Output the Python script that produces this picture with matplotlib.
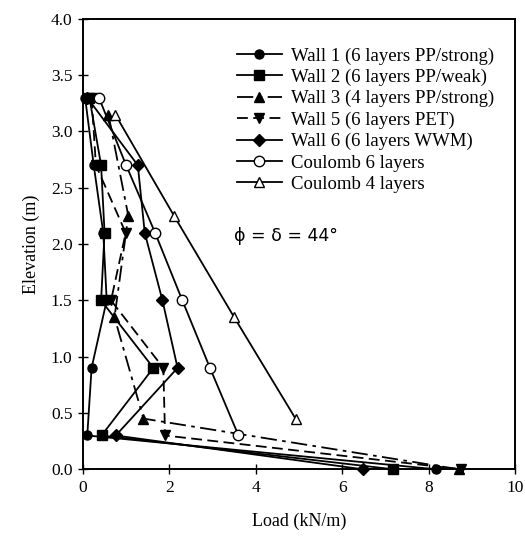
import matplotlib
matplotlib.use("Agg")
import matplotlib.pyplot as plt

# Elevations of the reinforcement layers (m)
elev6 = [3.3, 2.7, 2.1, 1.5, 0.9, 0.3, 0.0]
elev4 = [3.15, 2.25, 1.35, 0.45, 0.0]
elev6_coulomb = [3.3, 2.7, 2.1, 1.5, 0.9, 0.3]
elev4_coulomb = [3.15, 2.25, 1.35, 0.45]

# Measured loads (kN/m)
wall1 = [0.05, 0.25, 0.47, 0.55, 0.20, 0.10, 8.17]
wall2 = [0.15, 0.42, 0.50, 0.42, 1.63, 0.43, 7.18]
wall3 = [0.59, 1.05, 0.73, 1.40, 8.70]
wall5 = [0.20, 0.30, 0.99, 0.65, 1.86, 1.90, 8.75]
wall6 = [0.10, 1.27, 1.43, 1.84, 2.19, 0.76, 6.47]

# Coulomb predictions (kN/m)
coulomb6 = [0.37, 1.00, 1.67, 2.30, 2.94, 3.60]
coulomb4 = [0.75, 2.11, 3.50, 4.92]

labels = [
    "Wall 1 (6 layers PP/strong)",
    "Wall 2 (6 layers PP/weak)",
    "Wall 3 (4 layers PP/strong)",
    "Wall 5 (6 layers PET)",
    "Wall 6 (6 layers WWM)",
    "Coulomb 6 layers",
    "Coulomb 4 layers",
]

plt.rcParams["font.family"] = ["Liberation Serif", "DejaVu Serif"]

fig = plt.figure(figsize=(5.25, 5.4), dpi=100)
ax = fig.add_axes([0.158, 0.131, 0.823, 0.834])

k = dict(color="black", lw=1.3, clip_on=False)
ax.plot(wall1, elev6, marker="o", ms=6.5, ls="-", label=labels[0], **k)
ax.plot(wall2, elev6, marker="s", ms=6.5, ls="-", label=labels[1], **k)
ax.plot(wall3, elev4, marker="^", ms=7, ls=(0, (9, 3, 2, 3)), label=labels[2], **k)
ax.plot(wall5, elev6, marker="v", ms=7, ls=(0, (6, 3)), label=labels[3], **k)
ax.plot(wall6, elev6, marker="D", ms=6, ls="-", label=labels[4], **k)
ax.plot(coulomb6, elev6_coulomb, marker="o", ms=7.5, mfc="white", ls="-",
        label=labels[5], **k)
ax.plot(coulomb4, elev4_coulomb, marker="^", ms=7.5, mfc="white", ls="-",
        label=labels[6], **k)

ax.set_xlim(0, 10)
ax.set_ylim(0, 4.0)
ax.set_xticks([0, 2, 4, 6, 8, 10])
ax.set_yticks([0.0, 0.5, 1.0, 1.5, 2.0, 2.5, 3.0, 3.5, 4.0])
ax.set_yticklabels([f"{v:.1f}" for v in ax.get_yticks()])
ax.tick_params(direction="inout", length=7, width=1, labelsize=12.5, pad=4)
for s in ax.spines.values():
    s.set_linewidth(1.4)

ax.set_xlabel("Load (kN/m)", fontsize=13, labelpad=12)
ax.set_ylabel("Elevation (m)", fontsize=13, labelpad=8)

ax.text(3.5, 2.07, "\u03d5 = \u03b4 = 44\u00b0", fontsize=12.5, va="center",
        family=["DejaVu Sans"])

ax.legend(loc="upper left", bbox_to_anchor=(0.33, 0.962), frameon=False,
          fontsize=13.5, handlelength=2.4, handletextpad=0.5,
          labelspacing=0.22, borderaxespad=0.2)

fig.savefig("out.png", dpi=100)
